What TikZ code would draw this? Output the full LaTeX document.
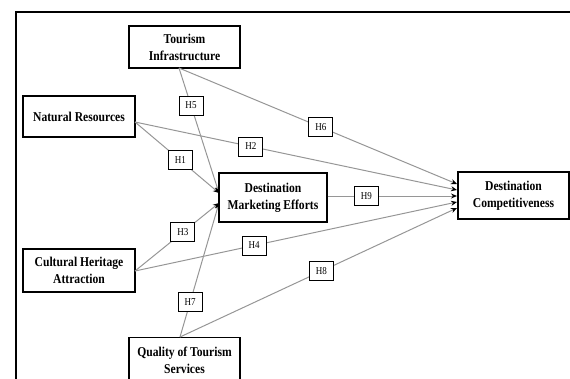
\documentclass[tikz,border=0pt]{standalone}
\usepackage{fontspec}
\setmainfont{Liberation Serif}[FakeStretch=0.86]
\usetikzlibrary{arrows.meta}
\begin{document}
\begin{tikzpicture}[x=1pt,y=-1pt,
  box/.style={draw=black,line width=1.1pt,fill=white,align=center,inner sep=0pt,
    font=\fontsize{13.5}{17}\selectfont\bfseries},
  hbox/.style={draw=black,line width=0.9pt,fill=white,inner sep=0pt,
    minimum width=24pt,minimum height=19pt,font=\fontsize{10.5}{12}\selectfont},
  conn/.style={draw={rgb,255:red,150;green,150;blue,150},line width=1pt,
    -{Stealth[length=6pt,width=5pt,black]}}]
\useasboundingbox (0,0) rectangle (570,378);
\draw[line width=2pt] (16,400) -- (16,12) -- (600,12);
% main boxes
\node[box,minimum width=111pt,minimum height=42pt] (TI) at (184.5,47) {Tourism\\Infrastructure};
\node[box,minimum width=112pt,minimum height=41pt] (NR) at (79,116.5) {Natural Resources};
\node[box,minimum width=112pt,minimum height=43pt] (CH) at (79,270.5) {Cultural Heritage\\Attraction};
\node[box,minimum width=111pt,minimum height=46pt,anchor=north] (Q) at (184.5,337) {Quality of Tourism\\Services};
\draw[line width=1.1pt] (Q.south west) -- ++(0,10) (Q.south east) -- ++(0,10);
\node[box,minimum width=108pt,minimum height=49pt] (DME) at (273,197.5) {Destination\\Marketing Efforts};
\node[box,minimum width=111pt,minimum height=47pt] (DC) at (513.5,195.5) {Destination\\Competitiveness};
% connector ends
\coordinate (tis) at (179,68);
\coordinate (nre) at (135,122);
\coordinate (che) at (135,271);
\coordinate (qn) at (180,337);
\coordinate (dmeA) at (219,193);
\coordinate (dmeB) at (219,203);
\coordinate (dc1) at (457,184);
\coordinate (dc2) at (457,190);
\coordinate (dc3) at (457,196);
\coordinate (dc4) at (457,202);
\coordinate (dc5) at (457,208);
% connectors
\draw[conn] (tis) -- node[hbox,pos=0.30] (h5) {H5} (dmeA);
\draw[conn] (tis) -- node[hbox,pos=0.51] (h6) {H6} (dc1);
\draw[conn] (nre) -- node[hbox,pos=0.54] (h1) {H1} (dmeA);
\draw[conn] (nre) -- node[hbox,pos=0.36] (h2) {H2} (dc2);
\draw[conn] (che) -- node[hbox,pos=0.57] (h3) {H3} (dmeB);
\draw[conn] (che) -- node[hbox,pos=0.37] (h4) {H4} (dc4);
\draw[conn] (qn) -- node[hbox,pos=0.26] (h7) {H7} (dmeB);
\draw[conn] (qn) -- node[hbox,pos=0.51] (h8) {H8} (dc5);
\draw[conn] (DME.east |- dc3) -- node[hbox,pos=0.30] (h9) {H9} (dc3);
\end{tikzpicture}
\end{document}
